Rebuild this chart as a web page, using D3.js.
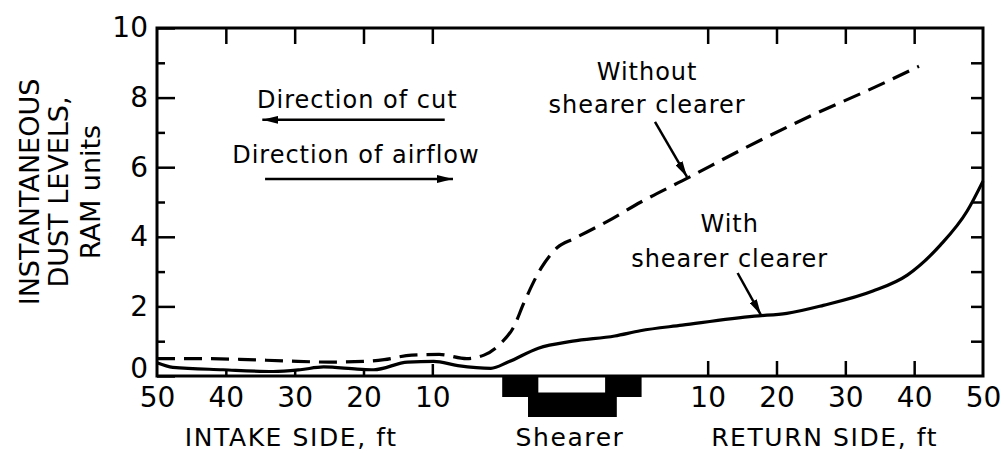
<!DOCTYPE html>
<html>
<head>
<meta charset="utf-8">
<script src="https://cdn.jsdelivr.net/npm/d3@7/dist/d3.min.js"></script>
<style>
  html, body { margin: 0; padding: 0; background: #fff; }
  svg { display: block; font-family: "DejaVu Sans", sans-serif; }
  .tick line { stroke: #000; stroke-width: 2.5; }
  .tick text { font-size: 28px; font-family: "DejaVu Sans", sans-serif; fill: #000; }
</style>
</head>
<body>
<div id="chart"></div>
<script>
// positions along the face, ft: intake side is negative, the shearer
// takes up 0..20, the return side starts after it (return ft = pos - 20)
var SHEARER_FT = 20;

var intakeTicks = [50, 40, 30, 20, 10];
var returnTicks = [10, 20, 30, 40, 50];
var dustTicks = [0, 2, 4, 6, 8, 10];
var dustMinor = [1, 3, 5, 7, 9];

var withPos = [-50, -47.7, -40.4, -33.1, -29.2, -25.8, -20.9, -18.5, -13.6, -9.8, -6.3, -1.5, 1, 5.4, 10.4, 16.5, 20.2, 26.3, 36.8, 41.5, 46.8, 54, 59, 63.8, 67.7, 70];
var withDust = [0.38, 0.25, 0.18, 0.13, 0.18, 0.26, 0.2, 0.18, 0.4, 0.42, 0.3, 0.22, 0.4, 0.8, 1.0, 1.15, 1.3, 1.46, 1.72, 1.8, 2.03, 2.44, 2.9, 3.76, 4.74, 5.6];

var withoutPos = [-50, -44, -38, -31, -25, -20, -17, -13, -9, -5, -2.5, 0, 1.8, 3.3, 5.8, 8.2, 10.6, 15.5, 20.3, 27.2, 34.9, 44.7, 54.3, 60.7];
var withoutDust = [0.5, 0.5, 0.48, 0.43, 0.4, 0.42, 0.47, 0.6, 0.62, 0.5, 0.6, 0.95, 1.4, 2.1, 3.1, 3.7, 3.95, 4.45, 5.0, 5.7, 6.5, 7.45, 8.3, 8.9];

// shearer outline along the face, ft
var shearerBody = [0.15, 20.4];
var shearerBase = [3.9, 16.8];
var shearerWindow = [5.4, 15.1];

var width = 1004, height = 453;
var margin = { top: 28, right: 21, bottom: 77, left: 157 };

var svg = d3.select("#chart").append("svg")
  .attr("width", width)
  .attr("height", height);

var x = d3.scaleLinear()
  .domain([-50, 50 + SHEARER_FT])
  .range([margin.left, width - margin.right]);

var y = d3.scaleLinear()
  .domain([0, 10])
  .range([height - margin.bottom, margin.top]);

var x0 = x.range()[0], x1 = x.range()[1];
var y0 = y.range()[0], y1 = y.range()[1];

function noDomain(g) { g.select(".domain").remove(); }

var intakePos = intakeTicks.map(function (t) { return -t; });
var returnPos = returnTicks.map(function (t) { return t + SHEARER_FT; });

// y axis, ticks pointing inward
svg.append("g")
  .attr("transform", "translate(" + x0 + ",0)")
  .call(d3.axisLeft(y).tickValues(dustTicks).tickSize(-18).tickPadding(9))
  .call(noDomain)
  .call(function (g) {
    // the 0 sits a little high so it clears the 50 below it
    g.selectAll(".tick text").filter(function (d) { return d === 0; }).attr("dy", "0.05em");
  });

svg.append("g")
  .attr("transform", "translate(" + x0 + ",0)")
  .call(d3.axisLeft(y).tickValues(dustMinor).tickSize(-8).tickFormat(""))
  .call(noDomain);

svg.append("g")
  .attr("transform", "translate(" + x1 + ",0)")
  .call(d3.axisRight(y).tickValues(dustMinor.concat([2, 4, 6, 8])).tickSize(-12).tickFormat(""))
  .call(noDomain);

// top ticks
svg.append("g")
  .attr("transform", "translate(0," + y1 + ")")
  .call(d3.axisTop(x).tickValues(intakePos.slice(1).concat(returnPos.slice(0, 4))).tickSize(-16).tickFormat(""))
  .call(noDomain);

// bottom ticks
svg.append("g")
  .attr("transform", "translate(0," + y0 + ")")
  .call(d3.axisBottom(x).tickValues(intakePos.slice(1, 4)).tickSize(-6).tickFormat(""))
  .call(noDomain);

svg.append("g")
  .attr("transform", "translate(0," + y0 + ")")
  .call(d3.axisBottom(x).tickValues([intakePos[4]]).tickSize(-12).tickFormat(""))
  .call(noDomain);

svg.append("g")
  .attr("transform", "translate(0," + y0 + ")")
  .call(d3.axisBottom(x).tickValues(returnPos.slice(0, 4)).tickSize(-15).tickFormat(""))
  .call(noDomain);

// bottom labels
svg.append("g")
  .attr("transform", "translate(0," + y0 + ")")
  .call(d3.axisBottom(x)
    .tickValues(intakePos.concat(returnPos))
    .tickSize(0)
    .tickPadding(11)
    .tickFormat(function (p) { return p < 0 ? -p : p - SHEARER_FT; }))
  .call(noDomain);

// frame
svg.append("rect")
  .attr("x", x0)
  .attr("y", y1)
  .attr("width", x1 - x0)
  .attr("height", y0 - y1)
  .attr("fill", "none")
  .attr("stroke", "#000")
  .attr("stroke-width", 3);

// shearer
svg.append("rect")
  .attr("x", x(shearerBody[0]))
  .attr("y", y0)
  .attr("width", x(shearerBody[1]) - x(shearerBody[0]))
  .attr("height", 21)
  .attr("fill", "#000");
svg.append("rect")
  .attr("x", x(shearerBase[0]))
  .attr("y", y0)
  .attr("width", x(shearerBase[1]) - x(shearerBase[0]))
  .attr("height", 41)
  .attr("fill", "#000");
svg.append("rect")
  .attr("x", x(shearerWindow[0]))
  .attr("y", y0 + 1.5)
  .attr("width", x(shearerWindow[1]) - x(shearerWindow[0]))
  .attr("height", 15)
  .attr("fill", "#fff");

// curves
var line = d3.line()
  .x(function (d) { return x(d[0]); })
  .y(function (d) { return y(d[1]); })
  .curve(d3.curveMonotoneX);

svg.append("path")
  .datum(d3.zip(withoutPos, withoutDust))
  .attr("d", line)
  .attr("fill", "none")
  .attr("stroke", "#000")
  .attr("stroke-width", 3.2)
  .attr("stroke-dasharray", "18,9");

svg.append("path")
  .datum(d3.zip(withPos, withDust))
  .attr("d", line)
  .attr("fill", "none")
  .attr("stroke", "#000")
  .attr("stroke-width", 3.2);

// arrowheads
svg.append("defs")
  .append("marker")
  .attr("id", "arrowhead")
  .attr("viewBox", "0 -4 16 8")
  .attr("refX", 16)
  .attr("refY", 0)
  .attr("orient", "auto")
  .attr("markerUnits", "userSpaceOnUse")
  .attr("markerWidth", 16)
  .attr("markerHeight", 8)
  .append("path")
  .attr("d", "M0,-4 L16,0 L0,4 Z")
  .attr("fill", "#000");

// annotations in data coordinates (pos ft, dust level)
var notes = [
  { text: "Direction of cut", p: -20.9, v: 7.7 },
  { text: "Direction of airflow", p: -21.1, v: 6.12 },
  { text: "Without", p: 21.2, v: 8.5 },
  { text: "shearer clearer", p: 21.2, v: 7.56 },
  { text: "With", p: 33.2, v: 4.14 },
  { text: "shearer clearer", p: 33.2, v: 3.13 }
];

var arrows = [
  { from: [-8.2, 7.36], to: [-34.7, 7.36] },
  { from: [-34.3, 5.66], to: [-7.0, 5.66] },
  { from: [22.35, 7.3], to: [27.0, 5.72] },
  { from: [34.35, 2.96], to: [37.75, 1.75] }
];

svg.selectAll(".note")
  .data(notes)
  .enter()
  .append("text")
  .attr("class", "note")
  .attr("x", function (d) { return x(d.p); })
  .attr("y", function (d) { return y(d.v); })
  .attr("text-anchor", "middle")
  .attr("font-size", 24)
  .attr("letter-spacing", 1)
  .text(function (d) { return d.text; });

svg.selectAll(".arrow")
  .data(arrows)
  .enter()
  .append("line")
  .attr("class", "arrow")
  .attr("x1", function (d) { return x(d.from[0]); })
  .attr("y1", function (d) { return y(d.from[1]); })
  .attr("x2", function (d) { return x(d.to[0]); })
  .attr("y2", function (d) { return y(d.to[1]); })
  .attr("stroke", "#000")
  .attr("stroke-width", 2.5)
  .attr("marker-end", "url(#arrowhead)");

// axis titles
var yTitle = [
  { text: "INSTANTANEOUS", x: 39 },
  { text: "DUST LEVELS,", x: 68 },
  { text: "RAM units", x: 100 }
];

svg.selectAll(".ytitle")
  .data(yTitle)
  .enter()
  .append("text")
  .attr("class", "ytitle")
  .attr("transform", function (d) { return "translate(" + d.x + "," + 192 + ") rotate(-90)"; })
  .attr("text-anchor", "middle")
  .attr("font-size", 27)
  .text(function (d) { return d.text; });

var xTitle = [
  { text: "INTAKE SIDE, ft", p: -30.5 },
  { text: "Shearer", p: SHEARER_FT / 2 },
  { text: "RETURN SIDE, ft", p: 47 }
];

svg.selectAll(".xtitle")
  .data(xTitle)
  .enter()
  .append("text")
  .attr("class", "xtitle")
  .attr("x", function (d) { return x(d.p); })
  .attr("y", 446)
  .attr("text-anchor", "middle")
  .attr("font-size", 25)
  .attr("letter-spacing", 1.6)
  .text(function (d) { return d.text; });
</script>
</body>
</html>
